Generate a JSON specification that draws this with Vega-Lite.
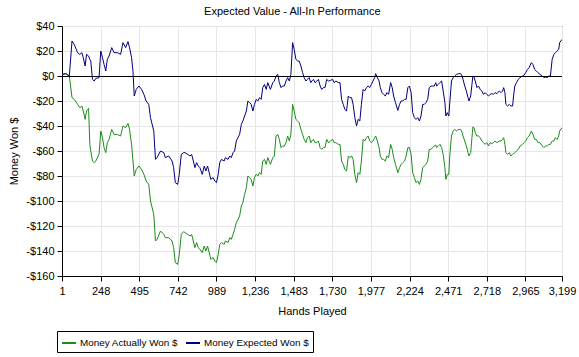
{
  "$schema": "https://vega.github.io/schema/vega-lite/v6.json",
  "width": 500,
  "height": 250,
  "autosize": {"type": "none"},
  "padding": {"left": 62, "top": 26, "right": 17, "bottom": 81},
  "background": "white",
  "title": {"text": "Expected Value - All-In Performance", "fontSize": 11, "fontWeight": "normal", "font": "Liberation Sans", "color": "black", "anchor": "middle", "frame": "bounds", "offset": 3},
  "config": {
    "view": {"stroke": "black", "strokeWidth": 1},
    "font": "Liberation Sans",
    "axis": {"labelFont": "Liberation Sans", "labelFontSize": 11, "labelColor": "black", "titleFont": "Liberation Sans", "titleFontSize": 11, "titleFontWeight": "normal", "titleColor": "black", "domainColor": "black", "tickColor": "black", "tickSize": 5, "gridColor": "#e6e6e6", "gridWidth": 1, "labelOverlap": false}
  },
  "data": {"values": [
    {"hand":1,"actual":1.3,"expected":1.3},{"hand":26,"actual":1.9,"expected":1.9},{"hand":48,"actual":0,"expected":0},
    {"hand":65,"actual":-17.3,"expected":28},{"hand":79,"actual":-18.7,"expected":25.3},{"hand":101,"actual":-22.7,"expected":18.7},
    {"hand":115,"actual":-25.3,"expected":17.3},{"hand":128,"actual":-24,"expected":18.7},{"hand":137,"actual":-28,"expected":14.7},
    {"hand":149,"actual":-34.7,"expected":8},{"hand":158,"actual":-28,"expected":17.3},{"hand":171,"actual":-25.9,"expected":16},
    {"hand":179,"actual":-54.7,"expected":13.3},{"hand":185,"actual":-60,"expected":12},{"hand":196,"actual":-68,"expected":-2.7},
    {"hand":207,"actual":-69.3,"expected":-4},{"hand":217,"actual":-68,"expected":-1.9},{"hand":238,"actual":-62.7,"expected":-1.3},
    {"hand":249,"actual":-44,"expected":20},{"hand":260,"actual":-49.3,"expected":14.7},{"hand":270,"actual":-57.3,"expected":9.3},
    {"hand":281,"actual":-61.3,"expected":4},{"hand":291,"actual":-53.3,"expected":13.3},{"hand":302,"actual":-50.7,"expected":16},
    {"hand":319,"actual":-42.7,"expected":22.7},{"hand":334,"actual":-46.7,"expected":18.7},{"hand":355,"actual":-46.7,"expected":18.7},
    {"hand":376,"actual":-48,"expected":17.3},{"hand":391,"actual":-40,"expected":26.7},{"hand":408,"actual":-41.3,"expected":22.7},
    {"hand":423,"actual":-37.9,"expected":27.5},{"hand":433,"actual":-42.7,"expected":22.7},{"hand":446,"actual":-54.7,"expected":14.7},
    {"hand":455,"actual":-68,"expected":4},{"hand":463,"actual":-80,"expected":-16},{"hand":476,"actual":-74.7,"expected":-10.7},
    {"hand":493,"actual":-72,"expected":-8},{"hand":510,"actual":-74.7,"expected":-10.7},{"hand":525,"actual":-78.7,"expected":-14.7},
    {"hand":539,"actual":-84,"expected":-20},{"hand":556,"actual":-86.7,"expected":-22.7},{"hand":567,"actual":-100,"expected":-33.3},
    {"hand":588,"actual":-110.7,"expected":-44},{"hand":599,"actual":-132,"expected":-66.7},{"hand":609,"actual":-130.7,"expected":-65.3},
    {"hand":631,"actual":-124,"expected":-60},{"hand":652,"actual":-126.7,"expected":-61.3},{"hand":662,"actual":-129.3,"expected":-65.3},
    {"hand":684,"actual":-129.3,"expected":-64},{"hand":705,"actual":-132,"expected":-68},{"hand":715,"actual":-137.3,"expected":-73.3},
    {"hand":726,"actual":-149.3,"expected":-85.3},{"hand":741,"actual":-150.7,"expected":-86.7},{"hand":751,"actual":-142.7,"expected":-78.7},
    {"hand":764,"actual":-126.7,"expected":-62.7},{"hand":779,"actual":-124.5,"expected":-61.3},
    {"hand":788,"actual":-125.3,"expected":-61.3},{"hand":805,"actual":-126.7,"expected":-62.7},{"hand":820,"actual":-128,"expected":-64},
    {"hand":830,"actual":-126.7,"expected":-62.7},{"hand":841,"actual":-132,"expected":-68},{"hand":851,"actual":-137.3,"expected":-73.3},
    {"hand":862,"actual":-133.3,"expected":-69.3},{"hand":873,"actual":-137.3,"expected":-72},{"hand":883,"actual":-138.7,"expected":-73.3},
    {"hand":898,"actual":-141.3,"expected":-78.7},{"hand":911,"actual":-136,"expected":-72},{"hand":921,"actual":-140,"expected":-76},
    {"hand":932,"actual":-136,"expected":-72},{"hand":940,"actual":-140,"expected":-76},{"hand":953,"actual":-146.7,"expected":-82.7},
    {"hand":968,"actual":-145.3,"expected":-81.3},{"hand":978,"actual":-148,"expected":-84},{"hand":989,"actual":-149.3,"expected":-85.3},
    {"hand":1000,"actual":-142.7,"expected":-78.7},{"hand":1010,"actual":-134.7,"expected":-69.3},{"hand":1021,"actual":-133.3,"expected":-66.7},
    {"hand":1038,"actual":-134.7,"expected":-68},{"hand":1046,"actual":-132,"expected":-65.3},{"hand":1063,"actual":-133.3,"expected":-66.7},
    {"hand":1074,"actual":-129.3,"expected":-64},{"hand":1084,"actual":-130.7,"expected":-65.3},{"hand":1095,"actual":-126.7,"expected":-61.3},
    {"hand":1105,"actual":-122.7,"expected":-60},{"hand":1116,"actual":-117.3,"expected":-52},{"hand":1127,"actual":-114.7,"expected":-49.3},
    {"hand":1137,"actual":-112,"expected":-46.7},{"hand":1148,"actual":-104,"expected":-38.7},{"hand":1158,"actual":-101.3,"expected":-36},
    {"hand":1169,"actual":-94.7,"expected":-32},{"hand":1180,"actual":-89.3,"expected":-28},{"hand":1190,"actual":-80,"expected":-20},
    {"hand":1201,"actual":-81.3,"expected":-21.3},{"hand":1211,"actual":-82.7,"expected":-22.7},{"hand":1222,"actual":-88,"expected":-28},
    {"hand":1232,"actual":-81.3,"expected":-22.7},{"hand":1243,"actual":-78.7,"expected":-18.7},{"hand":1254,"actual":-80,"expected":-20},
    {"hand":1264,"actual":-77.3,"expected":-17.3},{"hand":1275,"actual":-78.7,"expected":-18.7},{"hand":1285,"actual":-68,"expected":-9.3},
    {"hand":1296,"actual":-66.7,"expected":-6.7},{"hand":1307,"actual":-70.7,"expected":-10.7},{"hand":1317,"actual":-65.3,"expected":-5.3},
    {"hand":1334,"actual":-70.7,"expected":-10.7},{"hand":1349,"actual":-65.3,"expected":-5.3},{"hand":1359,"actual":-64,"expected":-4},
    {"hand":1370,"actual":-48,"expected":0},{"hand":1381,"actual":-46.7,"expected":1.3},{"hand":1391,"actual":-50.7,"expected":-5.3},
    {"hand":1402,"actual":-57.3,"expected":-9.3},{"hand":1412,"actual":-56,"expected":-8},{"hand":1423,"actual":-56,"expected":-8},
    {"hand":1434,"actual":-53.3,"expected":-4},{"hand":1444,"actual":-48,"expected":-1.3},{"hand":1455,"actual":-52,"expected":-4},
    {"hand":1465,"actual":-46.7,"expected":1.3},{"hand":1476,"actual":-22.7,"expected":26.7},{"hand":1486,"actual":-28,"expected":21.3},
    {"hand":1497,"actual":-34.7,"expected":13.3},{"hand":1508,"actual":-36,"expected":12},{"hand":1518,"actual":-37.3,"expected":12},
    {"hand":1529,"actual":-42.7,"expected":8},{"hand":1540,"actual":-46.7,"expected":2.7},{"hand":1550,"actual":-50.7,"expected":-1.3},
    {"hand":1561,"actual":-53.3,"expected":-4},{"hand":1571,"actual":-49.3,"expected":-2.7},{"hand":1582,"actual":-48,"expected":-1.3},
    {"hand":1592,"actual":-53.3,"expected":-5.3},
    {"hand":1599,"actual":-52,"expected":-4},{"hand":1609,"actual":-50.7,"expected":-2.7},{"hand":1620,"actual":-53.3,"expected":-5.3},
    {"hand":1631,"actual":-53.3,"expected":-4},{"hand":1641,"actual":-52,"expected":-2.7},{"hand":1652,"actual":-57.3,"expected":-8},
    {"hand":1662,"actual":-58.7,"expected":-10.7},{"hand":1673,"actual":-57.3,"expected":-9.3},{"hand":1683,"actual":-57.3,"expected":-9.3},
    {"hand":1694,"actual":-50.7,"expected":-2.7},{"hand":1705,"actual":-53.3,"expected":-4},{"hand":1719,"actual":-52,"expected":-3.5},
    {"hand":1732,"actual":-50.7,"expected":-2.7},{"hand":1741,"actual":-53.3,"expected":-5.3},{"hand":1753,"actual":-53.3,"expected":-4},
    {"hand":1768,"actual":-54.7,"expected":-5.3},{"hand":1779,"actual":-54.7,"expected":-5.3},{"hand":1789,"actual":-68,"expected":-18.7},
    {"hand":1800,"actual":-70.7,"expected":-22.7},{"hand":1810,"actual":-74.7,"expected":-26.7},{"hand":1821,"actual":-76,"expected":-28},
    {"hand":1832,"actual":-64,"expected":-16},{"hand":1842,"actual":-65.3,"expected":-17.3},{"hand":1853,"actual":-64,"expected":-17.3},
    {"hand":1863,"actual":-66.7,"expected":-22.7},{"hand":1874,"actual":-78.7,"expected":-33.3},{"hand":1885,"actual":-85.3,"expected":-40},
    {"hand":1895,"actual":-77.3,"expected":-34.7},{"hand":1906,"actual":-78.7,"expected":-36},{"hand":1916,"actual":-68,"expected":-22.7},
    {"hand":1927,"actual":-50.7,"expected":-10.7},{"hand":1937,"actual":-52,"expected":-12},{"hand":1948,"actual":-49.3,"expected":-9.3},
    {"hand":1959,"actual":-48,"expected":-8},{"hand":1969,"actual":-52,"expected":-9.3},{"hand":1980,"actual":-53.3,"expected":-6.7},
    {"hand":1990,"actual":-52,"expected":-4},{"hand":2001,"actual":-49.3,"expected":-1.3},{"hand":2007,"actual":-48,"expected":1.9},
    {"hand":2018,"actual":-52,"expected":-1.3},{"hand":2029,"actual":-57.3,"expected":-4},{"hand":2037,"actual":-64,"expected":-9.3},
    {"hand":2048,"actual":-66.7,"expected":-13.3},{"hand":2058,"actual":-66.7,"expected":-14.7},{"hand":2069,"actual":-68,"expected":-16},
    {"hand":2079,"actual":-64,"expected":-13.3},{"hand":2090,"actual":-65.3,"expected":-14.7},{"hand":2103,"actual":-54.7,"expected":-5.3},
    {"hand":2113,"actual":-58.7,"expected":-9.3},{"hand":2122,"actual":-65.3,"expected":-16},{"hand":2134,"actual":-70.7,"expected":-21.3},
    {"hand":2149,"actual":-77.3,"expected":-27.5},{"hand":2160,"actual":-73.3,"expected":-22.7},{"hand":2170,"actual":-70.7,"expected":-20},
    {"hand":2181,"actual":-69.3,"expected":-20},{"hand":2192,"actual":-68,"expected":-18.7},{"hand":2202,"actual":-64,"expected":-18.7},
    {"hand":2213,"actual":-57.3,"expected":-9.3},{"hand":2223,"actual":-57.3,"expected":-8},{"hand":2234,"actual":-62.7,"expected":-13.3},
    {"hand":2244,"actual":-77.3,"expected":-29.3},{"hand":2255,"actual":-81.3,"expected":-33.3},{"hand":2265,"actual":-85.3,"expected":-34.7},
    {"hand":2276,"actual":-84,"expected":-33.3},{"hand":2287,"actual":-86.7,"expected":-36},{"hand":2297,"actual":-82.7,"expected":-32},
    {"hand":2308,"actual":-73.3,"expected":-22.7},{"hand":2318,"actual":-72,"expected":-22.7},{"hand":2329,"actual":-70.7,"expected":-21.3},
    {"hand":2340,"actual":-68,"expected":-18.7},{"hand":2350,"actual":-58.7,"expected":-9.3},{"hand":2361,"actual":-58.7,"expected":-8},
    {"hand":2371,"actual":-57.3,"expected":-8},{"hand":2382,"actual":-56,"expected":-8},{"hand":2392,"actual":-55.2,"expected":-5.3},
    {"hand":2397,"actual":-57.3,"expected":-8},{"hand":2408,"actual":-56,"expected":-6.7},{"hand":2418,"actual":-54.7,"expected":-5.3},
    {"hand":2429,"actual":-57.3,"expected":-4},{"hand":2439,"actual":-62.7,"expected":-12},{"hand":2450,"actual":-73.3,"expected":-21.3},
    {"hand":2456,"actual":-82.7,"expected":-32},{"hand":2465,"actual":-78.7,"expected":-29.3},{"hand":2475,"actual":-78.7,"expected":-32},
    {"hand":2482,"actual":-62.7,"expected":-20},{"hand":2492,"actual":-48,"expected":-4},{"hand":2503,"actual":-44,"expected":-1.3},
    {"hand":2513,"actual":-42.7,"expected":0},{"hand":2524,"actual":-44,"expected":1.3},{"hand":2539,"actual":-42.7,"expected":1.9},
    {"hand":2551,"actual":-42.7,"expected":1.9},{"hand":2560,"actual":-45.3,"expected":0},{"hand":2566,"actual":-48,"expected":-2.7},
    {"hand":2577,"actual":-52,"expected":-8},{"hand":2587,"actual":-56,"expected":-12},{"hand":2598,"actual":-61.3,"expected":-17.3},
    {"hand":2604,"actual":-64,"expected":-20},{"hand":2615,"actual":-61.3,"expected":-16},{"hand":2623,"actual":-49.3,"expected":-6.7},
    {"hand":2629,"actual":-40.8,"expected":0},{"hand":2636,"actual":-41.3,"expected":-0.8},{"hand":2644,"actual":-45.3,"expected":-4},
    {"hand":2655,"actual":-48,"expected":-9.3},{"hand":2665,"actual":-48,"expected":-8},{"hand":2676,"actual":-49.3,"expected":-10.7},
    {"hand":2686,"actual":-52,"expected":-12},{"hand":2697,"actual":-53.3,"expected":-14.7},{"hand":2707,"actual":-54.7,"expected":-13.3},
    {"hand":2718,"actual":-53.3,"expected":-14.7},{"hand":2729,"actual":-56,"expected":-16},{"hand":2739,"actual":-53.3,"expected":-14.7},
    {"hand":2750,"actual":-54.1,"expected":-14.1},{"hand":2760,"actual":-53.3,"expected":-14.7},{"hand":2771,"actual":-52,"expected":-13.3},
    {"hand":2783,"actual":-53.3,"expected":-14.1},{"hand":2798,"actual":-52,"expected":-12},{"hand":2809,"actual":-52,"expected":-13.3},
    {"hand":2819,"actual":-50.7,"expected":-12},{"hand":2826,"actual":-49.3,"expected":-9.3},{"hand":2834,"actual":-54.7,"expected":-13.3},
    {"hand":2840,"actual":-61.3,"expected":-22.7},{"hand":2851,"actual":-62.7,"expected":-24},{"hand":2862,"actual":-61.3,"expected":-22.7},
    {"hand":2872,"actual":-64,"expected":-24},{"hand":2883,"actual":-62.7,"expected":-24},{"hand":2889,"actual":-62.1,"expected":-16},
    {"hand":2897,"actual":-61.3,"expected":-8},{"hand":2908,"actual":-60,"expected":-5.3},{"hand":2919,"actual":-58.7,"expected":-2.7},
    {"hand":2931,"actual":-56,"expected":-1.3},{"hand":2946,"actual":-54.7,"expected":0},{"hand":2957,"actual":-53.3,"expected":0.8},
    {"hand":2967,"actual":-52,"expected":2.7},{"hand":2978,"actual":-49.3,"expected":5.3},{"hand":2989,"actual":-48,"expected":6.7},
    {"hand":3003,"actual":-44,"expected":10.7},{"hand":3013,"actual":-46.7,"expected":9.3},{"hand":3024,"actual":-50.7,"expected":5.3},
    {"hand":3035,"actual":-50.7,"expected":4},{"hand":3045,"actual":-53.3,"expected":2.7},{"hand":3058,"actual":-53.3,"expected":1.3},
    {"hand":3073,"actual":-56,"expected":0},{"hand":3083,"actual":-57.3,"expected":-1.3},{"hand":3094,"actual":-56,"expected":-0.8},
    {"hand":3104,"actual":-56,"expected":-1.3},{"hand":3115,"actual":-54.7,"expected":0},{"hand":3125,"actual":-54.7,"expected":0},
    {"hand":3136,"actual":-52,"expected":13.3},{"hand":3147,"actual":-52,"expected":17.3},{"hand":3157,"actual":-49.3,"expected":18.7},
    {"hand":3168,"actual":-50.7,"expected":20},{"hand":3178,"actual":-48,"expected":21.3},{"hand":3184,"actual":-44,"expected":26.7},
    {"hand":3199,"actual":-41.3,"expected":29.3}
  ]},
  "layer": [
    {
      "transform": [{"fold": ["actual", "expected"], "as": ["series", "value"]}],
      "mark": {"type": "line", "strokeWidth": 1, "clip": true},
      "encoding": {
        "x": {
          "field": "hand", "type": "quantitative",
          "scale": {"domain": [1, 3199], "nice": false, "zero": false},
          "axis": {"title": "Hands Played", "values": [1,248,495,742,989,1236,1483,1730,1977,2224,2471,2718,2965,3199], "labelExpr": "format(datum.value, ',')", "labelPadding": 4, "titlePadding": 9, "labelFlush": false}
        },
        "y": {
          "field": "value", "type": "quantitative",
          "scale": {"domain": [-160, 40], "nice": false},
          "axis": {"title": "Money Won $", "values": [-160,-140,-120,-100,-80,-60,-40,-20,0,20,40], "labelExpr": "datum.value < 0 ? '-$' + abs(datum.value) : '$' + datum.value", "labelPadding": 3, "titlePadding": 6, "labelOverlap": false}
        },
        "color": {
          "field": "series", "type": "nominal",
          "scale": {"domain": ["actual", "expected"], "range": ["#1c8c1c", "#00007f"]},
          "legend": {
            "title": null, "orient": "none", "legendX": -5, "legendY": 305, "direction": "horizontal",
            "labelExpr": "datum.label == 'actual' ? 'Money Actually Won $' : 'Money Expected Won $'",
            "symbolType": "stroke", "symbolStrokeWidth": 2, "symbolSize": 196,
            "labelFont": "Liberation Sans", "labelFontSize": 9.9, "labelColor": "black", "labelOffset": 3,
            "strokeColor": "black", "fillColor": "white", "padding": 4, "cornerRadius": 0, "columnPadding": 3, "gridAlign": "none"
          }
        },
        "order": {"field": "hand", "type": "quantitative"}
      }
    },
    {
      "mark": {"type": "rule", "color": "black", "strokeWidth": 1, "yOffset": 0.5},
      "encoding": {
        "y": {"datum": 0, "type": "quantitative",
          "axis": {"title": "Money Won $", "values": [-160,-140,-120,-100,-80,-60,-40,-20,0,20,40], "labelExpr": "datum.value < 0 ? '-$' + abs(datum.value) : '$' + datum.value", "labelPadding": 3, "titlePadding": 6, "labelOverlap": false}
        }
      }
    }
  ]
}
